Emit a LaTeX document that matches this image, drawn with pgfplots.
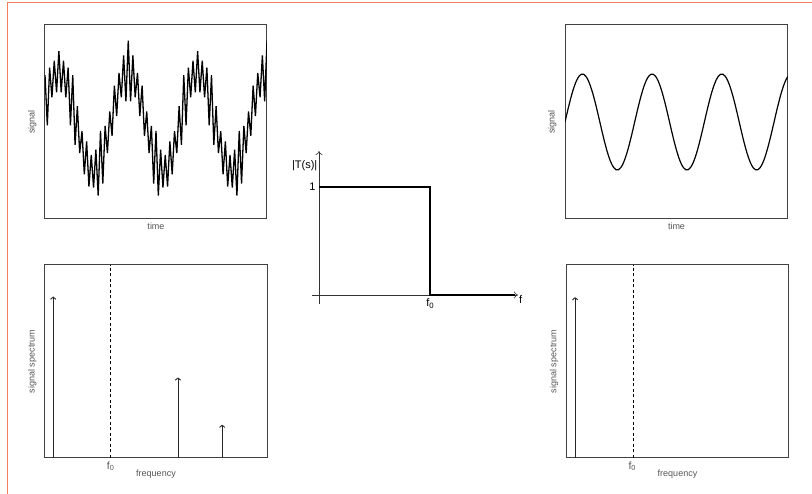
\documentclass[border=0pt]{standalone}
\usepackage{pgfplots}
\pgfplotsset{compat=1.18}
\usepackage{pgfplotstable}
\usepackage{fontspec}
\setmainfont{Liberation Sans}
\usetikzlibrary{arrows.meta}
\definecolor{framecol}{RGB}{242,125,90}
\definecolor{boxcol}{RGB}{65,65,65}
\definecolor{labcol}{RGB}{85,85,85}

\pgfplotstableread{
k y
0 0.894
1 -0.062
2 1.036
3 0.469
4 1.168
5 0.566
6 1.350
7 0.566
8 1.168
9 0.469
10 1.036
11 -0.062
12 0.894
13 -0.437
14 0.300
15 -0.594
16 -0.175
17 -0.999
18 -0.369
19 -1.231
20 -0.629
21 -1.250
22 -0.529
23 -1.405
24 -0.169
25 -1.173
26 -0.075
27 -0.594
28 0.200
29 -0.263
30 0.694
31 0.112
32 0.936
33 0.469
34 1.268
35 0.392
36 1.550
37 0.392
38 1.268
39 0.469
40 0.936
41 0.112
42 0.694
43 -0.263
44 0.200
45 -0.594
46 -0.075
47 -1.173
48 -0.169
49 -1.405
50 -0.529
51 -1.250
52 -0.629
53 -1.231
54 -0.369
55 -0.999
56 -0.175
57 -0.594
58 0.300
59 -0.437
60 0.894
61 -0.062
62 1.036
63 0.469
64 1.168
65 0.566
66 1.350
67 0.566
68 1.168
69 0.469
70 1.036
71 -0.062
72 0.894
73 -0.437
74 0.300
75 -0.594
76 -0.175
77 -0.999
78 -0.369
79 -1.231
80 -0.629
81 -1.250
82 -0.529
83 -1.405
84 -0.169
85 -1.173
86 -0.075
87 -0.594
88 0.200
89 -0.263
90 0.694
91 0.112
92 0.936
93 0.469
94 1.268
95 0.392
96 1.550
}\noisy

\pgfplotstableread{
k y
0 0
1 0.208
2 0.407
3 0.588
4 0.743
5 0.866
6 0.951
7 0.995
8 0.995
9 0.951
10 0.866
11 0.743
12 0.588
13 0.407
14 0.208
15 0
16 -0.208
17 -0.407
18 -0.588
19 -0.743
20 -0.866
21 -0.951
22 -0.995
23 -0.995
24 -0.951
25 -0.866
26 -0.743
27 -0.588
28 -0.407
29 -0.208
30 0
31 0.208
32 0.407
33 0.588
34 0.743
35 0.866
36 0.951
37 0.995
38 0.995
39 0.951
40 0.866
41 0.743
42 0.588
43 0.407
44 0.208
45 0
46 -0.208
47 -0.407
48 -0.588
49 -0.743
50 -0.866
51 -0.951
52 -0.995
53 -0.995
54 -0.951
55 -0.866
56 -0.743
57 -0.588
58 -0.407
59 -0.208
60 0
61 0.208
62 0.407
63 0.588
64 0.743
65 0.866
66 0.951
67 0.995
68 0.995
69 0.951
70 0.866
71 0.743
72 0.588
73 0.407
74 0.208
75 0
76 -0.208
77 -0.407
78 -0.588
79 -0.743
80 -0.866
81 -0.951
82 -0.995
83 -0.995
84 -0.951
85 -0.866
86 -0.743
87 -0.588
88 -0.407
89 -0.208
90 0
91 0.208
92 0.407
93 0.588
94 0.743
95 0.866
96 0.951
}\clean

\pgfplotsset{
  panel/.style={
    scale only axis, anchor=south west,
    axis line style={boxcol, line width=1pt},
    xtick=\empty, ytick=\empty, major tick length=0pt,
    tick label style={font=\fontsize{10.5}{11}\selectfont, text=labcol},
    every axis x label/.style={at={(axis description cs:0.5,0)}, anchor=north, yshift=-0.5pt, font=\fontsize{9}{10}\selectfont, text=labcol},
    every axis y label/.style={at={(axis description cs:0,0.5)}, rotate=90, anchor=south, yshift=5pt, font=\fontsize{9}{10}\selectfont, text=labcol},
  },
  spec/.style={panel, xmin=0, xmax=1, ymin=0, ymax=1,
    xtick={0.296}, xticklabels={f\textsubscript{0}},
    every axis x label/.style={at={(axis description cs:0.5,0)}, anchor=north, yshift=-8pt, font=\fontsize{9}{10}\selectfont, text=labcol},
  },
  spk/.style={black!85, line width=0.9pt, -{To[length=3pt,width=6pt]}},
}

\begin{document}
\begin{tikzpicture}[x=1pt,y=1pt]
\path (0,0) rectangle (812,494);
\draw[framecol, line width=1.3pt] (7.5,0) -- (7.5,491.5) -- (812,491.5);

% top-left noisy signal
\begin{axis}[panel, at={(45pt,275pt)}, width=222pt, height=194pt,
  xmin=0, xmax=96, ymin=-1.85, ymax=1.85, xlabel={time}, ylabel={signal}]
\addplot[black, line width=1.3pt] table[x=k, y=y] {\noisy};
\end{axis}

% bottom-left spectrum
\begin{axis}[spec, at={(45pt,36pt)}, width=222pt, height=193pt,
  xlabel={frequency}, ylabel={signal spectrum}]
\addplot[black, dashed, line width=0.9pt, dash pattern=on 3pt off 2.5pt] coordinates {(0.296,0) (0.296,1)};
\addplot[spk] coordinates {(0.037,0) (0.037,0.836)};
\addplot[spk] coordinates {(0.599,0) (0.599,0.417)};
\addplot[spk] coordinates {(0.798,0) (0.798,0.172)};
\end{axis}

% middle ideal low-pass
\begin{axis}[at={(312pt,190pt)}, anchor=south west, scale only axis,
  width=206pt, height=153pt,
  xmin=-0.063, xmax=1.79, ymin=-0.083, ymax=1.333,
  axis lines=middle,
  axis line style={black!80, line width=0.6pt, -{To[length=4pt,width=7pt]}},
  xtick={1}, xticklabels={f\textsubscript{0}}, ytick={1}, yticklabels={1},
  major tick length=0pt,
  tick label style={font=\fontsize{11}{12}\selectfont},
  xlabel={f}, ylabel={|T(s)|},
  every axis x label/.style={at={(axis cs:1.79,0)}, anchor=west, yshift=-4pt, inner sep=1pt, font=\fontsize{11}{12}\selectfont},
  every axis y label/.style={at={(axis cs:0,1.2)}, anchor=east, inner sep=1.5pt, font=\fontsize{11}{12}\selectfont},
]
\addplot[black, line width=2.2pt] coordinates {(0,1) (1,1) (1,0) (1.76,0)};
\end{axis}

% top-right clean signal
\begin{axis}[panel, at={(565pt,275pt)}, width=223pt, height=194pt,
  xmin=0, xmax=96, ymin=-2.02, ymax=2.02, xlabel={time}, ylabel={signal}]
\addplot[black, line width=1.2pt, smooth] table[x=k, y=y] {\clean};
\end{axis}

% bottom-right spectrum
\begin{axis}[spec, at={(566.7pt,36pt)}, width=221.6pt, height=193pt,
  xlabel={frequency}, ylabel={signal spectrum}]
\addplot[black, dashed, line width=0.9pt, dash pattern=on 3pt off 2.5pt] coordinates {(0.299,0) (0.299,1)};
\addplot[spk] coordinates {(0.038,0) (0.038,0.833)};
\end{axis}

\pgfresetboundingbox
\path (0,0) rectangle (812,494);
\end{tikzpicture}
\end{document}
